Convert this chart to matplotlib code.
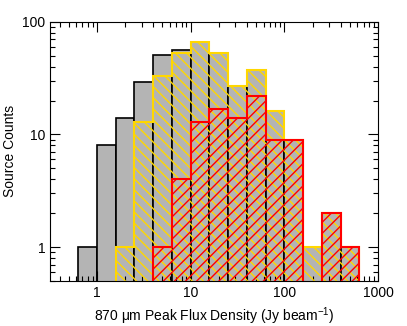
import matplotlib.pyplot as plt
import numpy as np
from matplotlib.ticker import FixedLocator, FixedFormatter, LogLocator, NullFormatter

plt.rcParams['font.family'] = ['Liberation Sans', 'DejaVu Sans']
plt.rcParams['mathtext.fontset'] = 'custom'
plt.rcParams['mathtext.rm'] = 'Liberation Sans'
plt.rcParams['mathtext.it'] = 'Liberation Sans:italic'
plt.rcParams['hatch.linewidth'] = 1.0

# log bins of 0.2 dex
log_edges = [-0.2, 0.0, 0.2, 0.4, 0.6, 0.8, 1.0, 1.2, 1.4, 1.6, 1.8, 2.0, 2.2, 2.4, 2.6, 2.8]
all_counts    = [1, 8, 14, 29, 51, 56, 66, 53, 27, 37, 16, 9, 1, 2, 1]
yellow_counts = [0, 0, 1, 13, 33, 53, 66, 53, 27, 37, 16, 9, 1, 2, 1]
red_counts    = [0, 0, 0, 0, 1, 4, 13, 17, 14, 22, 9, 9, 0, 2, 1]

base = 0.1
edges = 10 ** np.array(log_edges)
left = edges[:-1]
width = np.diff(edges)
allc = np.array(all_counts, dtype=float)

fig = plt.figure(figsize=(4.07, 3.26), dpi=100)
ax = fig.add_axes([0.123, 0.138, 0.806, 0.795])

ax.bar(left, np.where(allc > 0, allc - base, 0), width=width, align='edge', bottom=base,
       color='#b4b4b4', edgecolor='black', linewidth=1.2, zorder=1)
ax.stairs(yellow_counts, edges, baseline=base, fill=True, facecolor='none',
          edgecolor='#ffd700', hatch='\\\\\\', linewidth=1.5, zorder=2)
ax.stairs(red_counts, edges, baseline=base, fill=True, facecolor='none',
          edgecolor='#ff0000', hatch='///', linewidth=1.5, zorder=3)

ax.set_xscale('log')
ax.set_yscale('log')
ax.set_xlim(10 ** -0.5, 1000)
ax.set_ylim(0.5, 100)

ax.xaxis.set_major_locator(FixedLocator([1, 10, 100, 1000]))
ax.xaxis.set_major_formatter(FixedFormatter(['1', '10', '100', '1000']))
ax.yaxis.set_major_locator(FixedLocator([1, 10, 100]))
ax.yaxis.set_major_formatter(FixedFormatter(['1', '10', '100']))
ax.xaxis.set_minor_locator(LogLocator(base=10, subs=np.arange(2, 10)))
ax.yaxis.set_minor_locator(LogLocator(base=10, subs=np.arange(2, 10)))
ax.xaxis.set_minor_formatter(NullFormatter())
ax.yaxis.set_minor_formatter(NullFormatter())

ax.tick_params(which='both', direction='in', top=True, right=True, labelsize=10)
ax.tick_params(which='major', length=7, width=0.8)
ax.tick_params(which='minor', length=3.5, width=0.8)

ax.set_xlabel('870 \u03bcm Peak Flux Density (Jy beam$^{-1}$)', fontsize=10)
ax.set_ylabel('Source Counts', fontsize=10)

fig.savefig('out.png', dpi=100)
